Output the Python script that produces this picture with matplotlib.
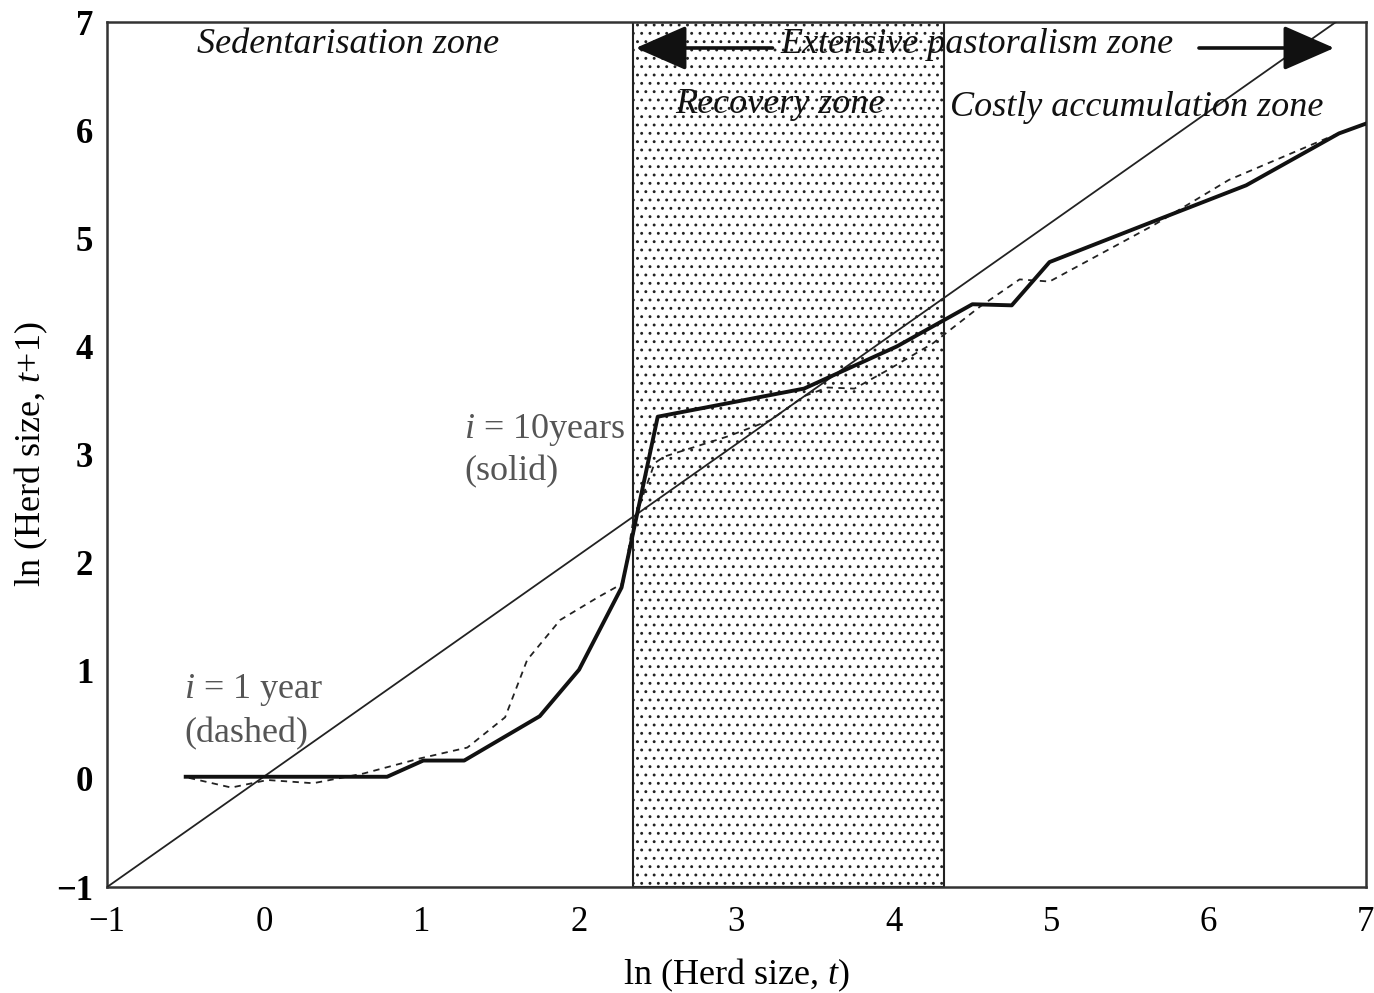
import numpy as np
import matplotlib.pyplot as plt
from matplotlib.patches import Rectangle

plt.rcParams['font.family'] = ['Liberation Serif', 'DejaVu Serif']
plt.rcParams['mathtext.fontset'] = 'custom'
plt.rcParams['mathtext.rm'] = 'Liberation Serif'
plt.rcParams['mathtext.it'] = 'Liberation Serif:italic'
plt.rcParams['hatch.linewidth'] = 0.9
plt.rcParams['hatch.color'] = '#333333'

# i = 10 years (solid)
solid_x = [-0.5, 0.78, 1.01, 1.27, 1.75, 2.0, 2.27, 2.50, 3.43, 4.02, 4.50, 4.75, 4.99, 5.71, 6.24, 6.83, 7.0]
solid_y = [0.02, 0.02, 0.17, 0.17, 0.58, 1.01, 1.77, 3.35, 3.61, 4.0, 4.39, 4.38, 4.78, 5.19, 5.49, 5.97, 6.06]

# i = 1 year (dashed)
dashed_x = [-0.48, -0.21, 0.02, 0.31, 0.63, 0.99, 1.29, 1.53, 1.67, 1.88, 2.12, 2.28, 2.34, 2.48,
            2.54, 2.95, 3.22, 3.43, 3.58, 3.75, 3.96, 4.25, 4.55, 4.80, 4.99, 5.65, 6.13, 6.76, 7.0]
dashed_y = [0.01, -0.08, -0.01, -0.04, 0.05, 0.19, 0.29, 0.57, 1.10, 1.47, 1.68, 1.81, 2.35, 2.92,
            2.98, 3.17, 3.32, 3.54, 3.62, 3.61, 3.78, 4.03, 4.37, 4.62, 4.60, 5.12, 5.54, 5.93, 6.06]

# 45 degree reference
diag_x = [-1, 6.81]
diag_y = [-1, 7]

recovery_lo, recovery_hi = 2.34, 4.32
ticks = [-1, 0, 1, 2, 3, 4, 5, 6, 7]
tick_labels = ['\u22121' if t < 0 else str(t) for t in ticks]

fig = plt.figure(figsize=(13.74, 9.93), dpi=100)
ax = fig.add_axes([0.0779, 0.1067, 0.9161, 0.8711])

ax.add_patch(Rectangle((recovery_lo, -1), recovery_hi - recovery_lo, 8,
                       facecolor='white', edgecolor='#222222', lw=1.5, hatch='..', zorder=1))

ax.plot(diag_x, diag_y, color='#222222', lw=1.3, zorder=3)
ax.plot(dashed_x, dashed_y, color='#222222', lw=1.3, ls=(0, (3.5, 3)), zorder=3)
ax.plot(solid_x, solid_y, color='#111111', lw=2.8, zorder=4)

ax.set_xlim(-1, 7)
ax.set_ylim(-1, 7)
ax.set_xticks(ticks)
ax.set_yticks(ticks)
ax.set_xticklabels(tick_labels, fontsize=25)
ax.set_yticklabels(tick_labels, fontsize=25, fontweight='bold')
ax.tick_params(length=0)
ax.tick_params(axis='x', pad=14)
ax.tick_params(axis='y', pad=10)
for s in ax.spines.values():
    s.set_linewidth(1.8)
    s.set_color('#333333')

ax.set_xlabel('ln (Herd size, $\\mathit{t}$)', fontsize=26)
ax.set_ylabel('ln (Herd size, $\\mathit{t}$+1)', fontsize=26)
ax.xaxis.set_label_coords(0.5, -0.081)
ax.yaxis.set_label_coords(-0.045, 0.5)

zone = dict(fontsize=26, style='italic', color='#111111', va='center', zorder=5)
ax.text(-0.43, 6.79, 'Sedentarisation zone', **zone)
ax.text(3.28, 6.79, 'Extensive pastoralism zone', **zone)
ax.text(2.61, 6.24, 'Recovery zone', **zone)
ax.text(4.36, 6.21, 'Costly accumulation zone', **zone)

head = dict(arrowstyle='-|>,head_length=1.6,head_width=0.7', color='#111111', lw=2.6,
            mutation_scale=20, shrinkA=0, shrinkB=0)
ax.annotate('', xy=(2.36, 6.76), xytext=(3.23, 6.76), arrowprops=head)
ax.annotate('', xy=(6.80, 6.76), xytext=(5.94, 6.76), arrowprops=head)

note = dict(fontsize=26, color='#555555', va='center', zorder=5)
ax.text(1.27, 3.23, '$\\mathit{i}$ = 10years', **note)
ax.text(1.27, 2.84, '(solid)', **note)
ax.text(-0.51, 0.82, '$\\mathit{i}$ = 1 year', **note)
ax.text(-0.51, 0.42, '(dashed)', **note)

fig.savefig('out.png', dpi=100)
